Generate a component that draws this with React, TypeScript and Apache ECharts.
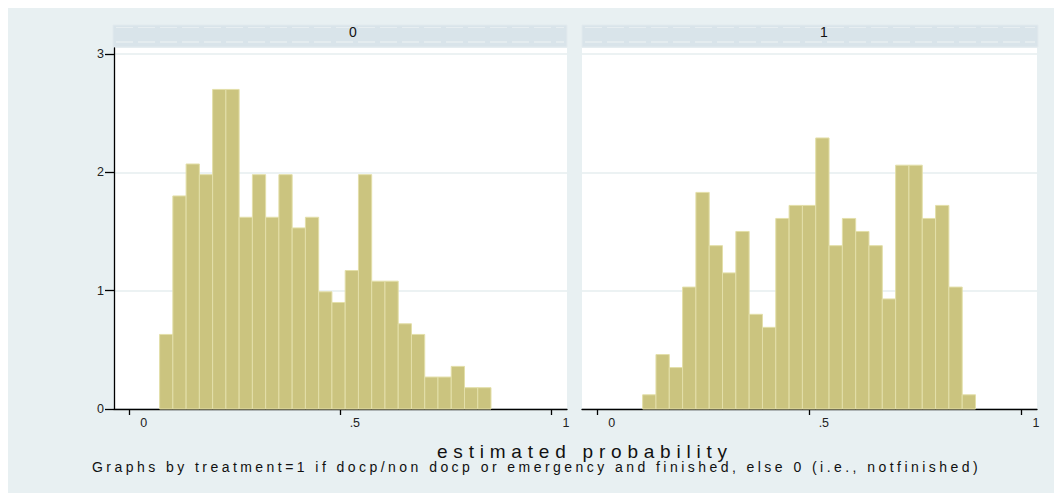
import React, { useEffect, useRef } from "react";
import * as echarts from "echarts";

// ---- data ----
const panelLabels = ["0", "1"];
const yTicks = [0, 1, 2, 3];
const xTicks = [0, 0.5, 1];
const xTickLabels: Record<string, string> = { "0": "0", "0.5": ".5", "1": "1" };
const binWidth = 0.0314;
const binStart0 = 0.073;
const binStart1 = 0.108;
const heights0 = [0.63, 1.8, 2.07, 1.98, 2.7, 2.7, 1.62, 1.98, 1.62, 1.98, 1.53, 1.62, 0.99, 0.9, 1.17, 1.98, 1.08, 1.08, 0.72, 0.63, 0.27, 0.27, 0.36, 0.18, 0.18];
const heights1 = [0.12, 0.46, 0.35, 1.03, 1.83, 1.38, 1.15, 1.5, 0.8, 0.69, 1.61, 1.72, 1.72, 2.29, 1.38, 1.61, 1.5, 1.38, 0.93, 2.06, 2.06, 1.61, 1.72, 1.03, 0.12];
const xTitle = "estimated probability";
const note = "Graphs by treatment=1 if docp/non docp or emergency and finished, else 0 (i.e., notfinished)";

const FONT = "Liberation Sans, Arial, sans-serif";
const BG = "#e8f0f2";
const STRIP = "#d9e4ea";
const BAR = "#cbc47f";
const BAR_EDGE = "#e3dfa9";
const GRIDLINE = "#e6eeef";

function bins(start: number, heights: number[]) {
  return heights.map((h, i) => [start + i * binWidth, start + (i + 1) * binWidth, h]);
}

function renderBar(params: any, api: any) {
  const x0 = api.value(0);
  const x1 = api.value(1);
  const h = api.value(2);
  const p0 = api.coord([x0, h]);
  const p1 = api.coord([x1, 0]);
  return {
    type: "rect",
    shape: { x: p0[0], y: p0[1], width: p1[0] - p0[0], height: p1[1] - p0[1] },
    style: { fill: BAR, stroke: BAR_EDGE, lineWidth: 1 },
  };
}

function strip(x: number, w: number, label: string, lx: number) {
  return {
    type: "group",
    children: [
      { type: "rect", shape: { x, y: 17, width: w, height: 22 }, style: { fill: STRIP, stroke: "#e2eaee", lineWidth: 1 } },
      { type: "line", shape: { x1: x + 3, y1: 19.5, x2: x + w - 3, y2: 19.5 }, style: { stroke: "#e7eef1", lineWidth: 1.2, lineDash: [17, 5] } },
      { type: "line", shape: { x1: x + 3, y1: 34, x2: x + w - 3, y2: 34 }, style: { stroke: "#e7eef1", lineWidth: 1.5, lineDash: [17, 5] } },
      { type: "text", x: lx, y: 24, style: { text: label, font: `14px ${FONT}`, fill: "#111", align: "center", verticalAlign: "middle" } },
    ],
  };
}

export default function App() {
  const ref = useRef<HTMLDivElement>(null);
  useEffect(() => {
    if (!ref.current) return;
    const chart = echarts.init(ref.current, undefined, { renderer: "svg" });
    const xAxisBase = (gi: number) => ({
      type: "value",
      gridIndex: gi,
      min: -0.035,
      max: 1.038,
      axisLine: { show: true, onZero: false, lineStyle: { color: "#000", width: 1.3 } },
      axisTick: { show: true, customValues: xTicks, length: 6, lineStyle: { color: "#000", width: 1.3 } },
      axisLabel: {
        show: true,
        customValues: xTicks,
        formatter: (v: number) => xTickLabels[String(v)] ?? String(v),
        fontFamily: FONT,
        fontSize: 12.5,
        color: "#222",
        margin: 7,
        padding: [0, 0, 0, 30],
      },
      splitLine: { show: false },
    });
    const yAxisBase = (gi: number, showAxis: boolean) => ({
      type: "value",
      gridIndex: gi,
      min: 0,
      max: 3.05,
      interval: 1,
      axisLine: { show: showAxis, onZero: false, lineStyle: { color: "#000", width: 1.3 } },
      axisTick: { show: showAxis, customValues: yTicks, length: 9, lineStyle: { color: "#000", width: 1.3 } },
      axisLabel: {
        show: showAxis,
        customValues: yTicks,
        fontFamily: FONT,
        fontSize: 12.5,
        color: "#222",
        margin: 10,
      },
      splitLine: { show: true, lineStyle: { color: GRIDLINE, width: 1.5 } },
    });
    chart.setOption({
      animation: false,
      backgroundColor: BG,
      grid: [
        { left: 106, top: 40, width: 453, height: 361, show: true, backgroundColor: "#fff", borderWidth: 0 },
        { left: 574, top: 40, width: 455, height: 361, show: true, backgroundColor: "#fff", borderWidth: 0 },
      ],
      xAxis: [xAxisBase(0), xAxisBase(1)],
      yAxis: [yAxisBase(0, true), yAxisBase(1, false)],
      series: [
        { type: "custom", xAxisIndex: 0, yAxisIndex: 0, renderItem: renderBar, encode: { x: [0, 1], y: 2 }, data: bins(binStart0, heights0) },
        { type: "custom", xAxisIndex: 1, yAxisIndex: 1, renderItem: renderBar, encode: { x: [0, 1], y: 2 }, data: bins(binStart1, heights1) },
      ],
      graphic: [
        strip(105, 454, panelLabels[0], 345),
        strip(574, 456, panelLabels[1], 816),
        { type: "text", x: 429, y: 443, style: { text: xTitle, font: `19px ${FONT}`, fill: "#111", align: "left", verticalAlign: "middle" } },
        { type: "text", x: 84, y: 458.5, style: { text: note, font: `14px ${FONT}`, fill: "#111", align: "left", verticalAlign: "middle" } },
      ],
    });

    // widen letter spacing of the two bottom texts to match the reference
    const canvas = document.createElement("canvas");
    const ctx = canvas.getContext("2d");
    const spacing = [
      { text: xTitle, font: `19px ${FONT}`, target: 290 },
      { text: note, font: `14px ${FONT}`, target: 886 },
    ];
    const texts = ref.current.querySelectorAll("text");
    texts.forEach((t) => {
      const s = spacing.find((sp) => sp.text === t.textContent);
      if (s && ctx) {
        ctx.font = s.font;
        const w = ctx.measureText(s.text).width;
        const ls = (s.target - w) / (s.text.length - 1);
        t.setAttribute("letter-spacing", ls.toFixed(2));
        (t as any).style.letterSpacing = ls.toFixed(2) + "px";
      }
    });
    return () => chart.dispose();
  }, []);
  return <div ref={ref} style={{ width: 1054, height: 485 }} />;
}
